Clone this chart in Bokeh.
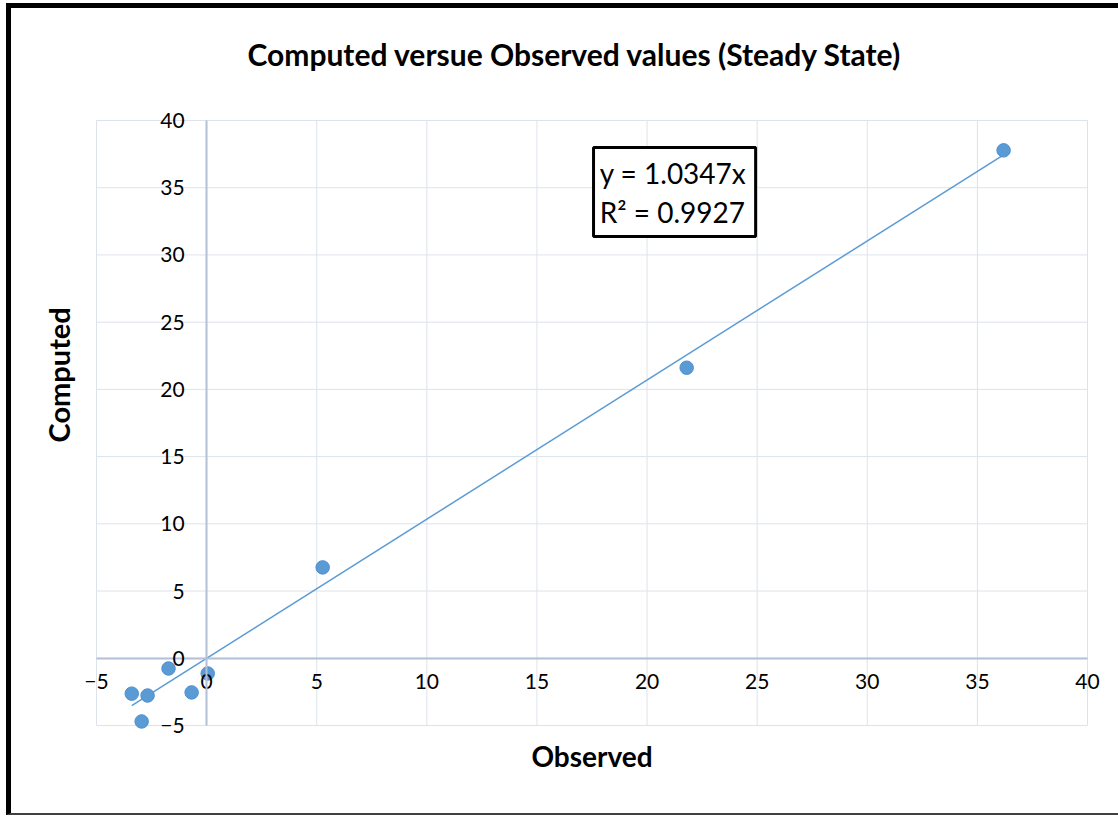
import numpy as np
from bokeh.plotting import figure
from bokeh.models import Range1d, Label, BoxAnnotation, FixedTicker, ColumnDataSource, Title
from bokeh.embed import file_html
from bokeh.resources import INLINE

title_text = "Computed versue Observed values (Steady State)"
x_title = "Observed"
y_title = "Computed"
observed = [36.19, 21.80, 5.27, 0.05, -0.68, -1.73, -2.68, -3.40, -2.95]
computed = [37.78, 21.61, 6.76, -1.13, -2.54, -0.76, -2.77, -2.63, -4.70]
slope = 1.0347
r2 = 0.9927
x_ticks = list(range(-5, 41, 5))
y_ticks = list(range(-5, 41, 5))

FONT = "Lato"
BLUE = "#5b9bd5"
GRID = "#dde3ec"
AXIS = "#b4c0d6"

xmin, xmax = x_ticks[0], x_ticks[-1]
ymin, ymax = y_ticks[0], y_ticks[-1]
padx = 18 / (991 / (xmax - xmin))
pady = 14 / (605 / (ymax - ymin))

p = figure(width=1112, height=812, output_backend="svg", toolbar_location=None,
           x_range=Range1d(xmin - padx, xmax + padx), y_range=Range1d(ymin - pady, ymax + pady),
           min_border_left=67, min_border_right=18, min_border_top=98, min_border_bottom=81)
p.styles = {"box-sizing": "border-box", "overflow": "hidden",
            "margin-left": "6px", "margin-top": "3px",
            "border-left": "5px solid black", "border-top": "5px solid black",
            "border-bottom": "2px solid #404040"}
p.background_fill_color = "white"
p.border_fill_color = "white"
p.outline_line_color = None
p.xgrid.visible = False
p.ygrid.visible = False

# grid lines from tick values
p.segment(x0=x_ticks, y0=[ymin] * len(x_ticks), x1=x_ticks, y1=[ymax] * len(x_ticks),
          line_color=GRID, line_width=1)
p.segment(x0=[xmin] * len(y_ticks), y0=y_ticks, x1=[xmax] * len(y_ticks), y1=y_ticks,
          line_color=GRID, line_width=1)

for ax, ticks, bounds in ((p.xaxis, x_ticks, (xmin, xmax)), (p.yaxis, y_ticks, (ymin, ymax))):
    ax.fixed_location = 0
    ax.bounds = bounds
    ax.ticker = FixedTicker(ticks=ticks)
    ax.major_tick_line_color = None
    ax.minor_tick_line_color = None
    ax.major_tick_in = 0
    ax.major_tick_out = 0
    ax.axis_line_color = AXIS
    ax.axis_line_width = 2
    ax.major_label_text_font = FONT
    ax.major_label_text_font_size = "21px"
    ax.major_label_text_color = "black"
p.xaxis.major_label_standoff = 16
p.yaxis.major_label_standoff = 22

# trendline through origin (Excel linear fit, intercept 0)
tx = np.array([min(observed), max(observed)])
p.line(tx, slope * tx, line_color=BLUE, line_width=1.5)

src = ColumnDataSource(dict(x=observed, y=computed))
p.scatter("x", "y", source=src, size=13.5, fill_color=BLUE, line_color="#4f8fcf", line_width=1)

# equation box
p.add_layout(BoxAnnotation(left=17.57, right=24.93, top=38.0, bottom=31.38,
                           fill_color="white", fill_alpha=1.0,
                           line_color="black", line_alpha=1.0, line_width=3))
p.add_layout(Label(x=17.85, y=36.07, text=f"y = {slope:.4f}x", text_font=FONT,
                   text_color="black", text_font_size="28px",
                   text_baseline="middle", text_align="left"))
p.add_layout(Label(x=17.85, y=33.17, text=f"R² = {r2:.4f}", text_font=FONT,
                   text_color="black", text_font_size="28px",
                   text_baseline="middle", text_align="left"))

# titles
p.title = None
p.add_layout(Title(text=" ", standoff=0, text_font=FONT, text_font_size="20px"), "above")
p.add_layout(Title(text=title_text, align="left", offset=169, standoff=18,
                   text_font=FONT, text_font_size="30px", text_font_style="bold",
                   text_color="black"), "above")
p.add_layout(Title(text=x_title, align="center", standoff=-6, text_font=FONT,
                   text_font_size="28px", text_font_style="bold", text_color="black"), "below")
p.add_layout(Title(text=y_title, align="left", offset=297, standoff=6, text_font=FONT,
                   text_font_size="29px", text_font_style="bold", text_color="black"), "left")

open("out.html", "w").write(file_html(p, INLINE))
